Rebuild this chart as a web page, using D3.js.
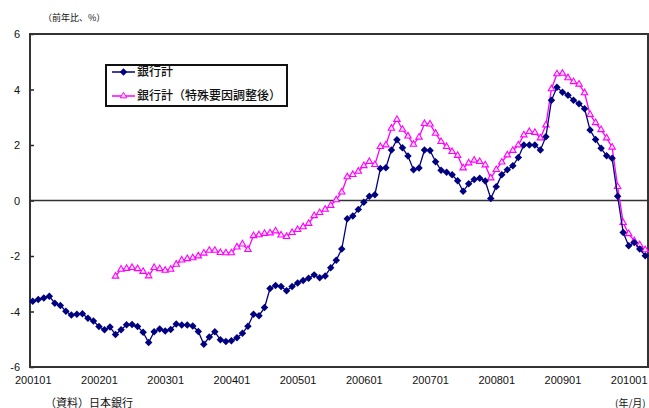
<!DOCTYPE html>
<html>
<head>
<meta charset="utf-8">
<script src="https://cdn.jsdelivr.net/npm/d3@7"></script>
<style>
  body { margin: 0; background: #fff; }
  text { font-family: "Liberation Sans", Arial, sans-serif; }
  .jp { font-family: "Noto Sans CJK JP", "Noto Sans", sans-serif; }
</style>
</head>
<body>
<svg id="chart"></svg>
<script>
// month categories 2001/01 .. 2010/04
var startYear = 2001;
var monthCount = 112;
var months = [];
for (var k = 0; k < monthCount; k++) {
  var yy = startYear + Math.floor(k / 12);
  var mm = (k % 12) + 1;
  months.push(yy + (mm < 10 ? "0" : "") + mm);
}

var xTickLabels = ["200101", "200201", "200301", "200401", "200501",
                   "200601", "200701", "200801", "200901", "201001"];
var yTicks = [-6, -4, -2, 0, 2, 4, 6];

var seriesNames = ["銀行計", "銀行計（特殊要因調整後）"];

// 銀行計
var bankTotal = [
  -3.63, -3.57, -3.51, -3.45, -3.70, -3.78, -3.99, -4.13, -4.10, -4.08, -4.24, -4.34,
  -4.54, -4.66, -4.56, -4.83, -4.66, -4.48, -4.47, -4.54, -4.75, -5.12, -4.73, -4.63,
  -4.70, -4.65, -4.45, -4.49, -4.49, -4.52, -4.72, -5.18, -4.92, -4.73, -5.02, -5.08,
  -5.05, -4.95, -4.78, -4.53, -4.10, -4.15, -3.86, -3.17, -3.06, -3.10, -3.25, -3.10,
  -2.97, -2.88, -2.80, -2.68, -2.78, -2.72, -2.42, -2.15, -1.75, -0.66, -0.56, -0.32,
  -0.06, 0.15, 0.21, 1.15, 1.18, 1.82, 2.19, 1.90, 1.60, 1.11, 1.17, 1.82,
  1.80, 1.40, 1.09, 1.02, 0.93, 0.71, 0.33, 0.60, 0.76, 0.80, 0.70, 0.07,
  0.50, 0.93, 1.11, 1.25, 1.55, 2.00, 2.00, 2.00, 1.82, 2.30, 3.61, 4.08,
  3.90, 3.79, 3.61, 3.49, 3.31, 2.54, 2.20, 1.88, 1.61, 1.52, 0.15, -1.15,
  -1.63, -1.51, -1.75, -1.99
];

// 銀行計（特殊要因調整後）, starts 2002/04
var bankAdjusted = [
  null, null, null, null, null, null, null, null, null, null, null, null,
  null, null, null, -2.73, -2.48, -2.45, -2.42, -2.46, -2.56, -2.72, -2.42, -2.46,
  -2.52, -2.48, -2.30, -2.15, -2.10, -2.07, -2.00, -1.90, -1.80, -1.80, -1.88, -1.89,
  -1.89, -1.68, -1.57, -1.77, -1.27, -1.24, -1.19, -1.17, -1.10, -1.25, -1.30, -1.16,
  -1.05, -0.95, -0.83, -0.55, -0.44, -0.32, -0.18, 0.02, 0.30, 0.85, 0.93, 1.05,
  1.25, 1.40, 1.29, 1.94, 2.00, 2.60, 2.92, 2.56, 2.32, 2.02, 2.28, 2.77,
  2.75, 2.42, 2.12, 1.94, 1.76, 1.62, 1.17, 1.35, 1.45, 1.40, 1.28, 0.81,
  1.11, 1.38, 1.64, 1.80, 2.00, 2.36, 2.48, 2.45, 2.25, 2.72, 4.02, 4.56,
  4.58, 4.42, 4.28, 4.19, 3.88, 3.10, 2.80, 2.55, 2.25, 1.92, 0.50, -0.80,
  -1.20, -1.45, -1.60, -1.78
];

var width = 649;
var height = 408;
var plot = { left: 30, top: 34, right: 648, bottom: 367 };

var svg = d3.select('#chart')
            .attr('width', width)
            .attr('height', height);

var xScale = d3.scalePoint()
               .domain(months)
               .range([plot.left, plot.right])
               .padding(0.5);

var yScale = d3.scaleLinear()
               .domain([-6, 6])
               .range([plot.bottom, plot.top]);

// y axis: labels outside, small ticks pointing inward
var yAxis = d3.axisLeft(yScale)
              .tickValues(yTicks)
              .tickSize(-4)
              .tickPadding(10)
              .tickFormat(d3.format('d'));

var yg = svg.append('g')
            .attr('transform', 'translate(' + plot.left + ',0)')
            .call(yAxis);
yg.select('.domain').remove();
yg.selectAll('line').attr('stroke', '#222').attr('stroke-width', 1.5);
yg.selectAll('text')
  .attr('font-size', 11)
  .attr('fill', '#111')
  .text(function (d) { return d < 0 ? '-' + Math.abs(d) : d; });

var xAxis = d3.axisBottom(xScale)
              .tickValues(xTickLabels)
              .tickSize(0)
              .tickPadding(9);

var xg = svg.append('g')
            .attr('transform', 'translate(0,' + plot.bottom + ')')
            .call(xAxis);
xg.select('.domain').remove();
xg.selectAll('text').attr('font-size', 11).attr('fill', '#111');

// frame
svg.append('rect')
   .attr('x', plot.left)
   .attr('y', plot.top)
   .attr('width', plot.right - plot.left)
   .attr('height', plot.bottom - plot.top)
   .attr('fill', 'none')
   .attr('stroke', '#333')
   .attr('stroke-width', 2);

// zero line
svg.append('line')
   .attr('x1', plot.left)
   .attr('x2', plot.right)
   .attr('y1', yScale(0))
   .attr('y2', yScale(0))
   .attr('stroke', '#333')
   .attr('stroke-width', 1.5);

var line = d3.line()
             .defined(function (d) { return d != null; })
             .x(function (d, i) { return xScale(months[i]); })
             .y(function (d) { return yScale(d); });

var diamond = d3.symbol().type(d3.symbolSquare).size(28);
var triangle = d3.symbol().type(d3.symbolTriangle).size(18);

// adjusted series (drawn first, under the navy one)
svg.append('path')
   .datum(bankAdjusted)
   .attr('d', line)
   .attr('fill', 'none')
   .attr('stroke', '#ff00ff')
   .attr('stroke-width', 1.3);

svg.selectAll('.tri')
   .data(bankAdjusted.map(function (v, i) { return { v: v, m: months[i] }; })
                     .filter(function (d) { return d.v != null; }))
   .enter()
   .append('path')
   .attr('class', 'tri')
   .attr('d', triangle)
   .attr('transform', function (d) { return 'translate(' + xScale(d.m) + ',' + yScale(d.v) + ')'; })
   .attr('fill', '#ffe6ff')
   .attr('stroke', '#ff00ff')
   .attr('stroke-width', 1.1);

svg.append('path')
   .datum(bankTotal)
   .attr('d', line)
   .attr('fill', 'none')
   .attr('stroke', '#000080')
   .attr('stroke-width', 1.3);

svg.selectAll('.dia')
   .data(bankTotal.map(function (v, i) { return { v: v, m: months[i] }; }))
   .enter()
   .append('path')
   .attr('class', 'dia')
   .attr('d', diamond)
   .attr('transform', function (d) { return 'translate(' + xScale(d.m) + ',' + yScale(d.v) + ') rotate(45)'; })
   .attr('fill', '#000080');

// legend
var legend = svg.append('g');
legend.append('rect')
      .attr('x', 106).attr('y', 65)
      .attr('width', 181).attr('height', 41)
      .attr('fill', '#fff')
      .attr('stroke', '#111')
      .attr('stroke-width', 2);

var legendRows = [
  { name: seriesNames[0], color: '#000080', sym: diamond, rot: 45, fill: '#000080', y: 72 },
  { name: seriesNames[1], color: '#ff00ff', sym: triangle, rot: 0, fill: '#ffe6ff', y: 96 }
];

legendRows.forEach(function (r) {
  legend.append('line')
        .attr('x1', 112).attr('x2', 135)
        .attr('y1', r.y).attr('y2', r.y)
        .attr('stroke', r.color).attr('stroke-width', 1.5);
  legend.append('path')
        .attr('d', r.sym)
        .attr('transform', 'translate(123.5,' + r.y + ') rotate(' + r.rot + ')')
        .attr('fill', r.fill)
        .attr('stroke', r.rot ? 'none' : r.color);
  legend.append('text')
        .attr('class', 'jp')
        .attr('x', 137).attr('y', r.y + 4)
        .attr('font-size', 12)
        .attr('font-weight', 500)
        .attr('fill', '#111')
        .text(r.name);
});

// notes
svg.append('text')
   .attr('class', 'jp')
   .attr('x', 43).attr('y', 20.5)
   .attr('font-size', 9)
   .attr('fill', '#111')
   .text('（前年比、%）');

svg.append('text')
   .attr('class', 'jp')
   .attr('x', 45).attr('y', 406.5)
   .attr('font-size', 11)
   .attr('fill', '#111')
   .text('（資料）日本銀行');

svg.append('text')
   .attr('class', 'jp')
   .attr('x', 615).attr('y', 406.5)
   .attr('font-size', 10)
   .attr('fill', '#111')
   .text('(年/月)');
</script>
</body>
</html>
